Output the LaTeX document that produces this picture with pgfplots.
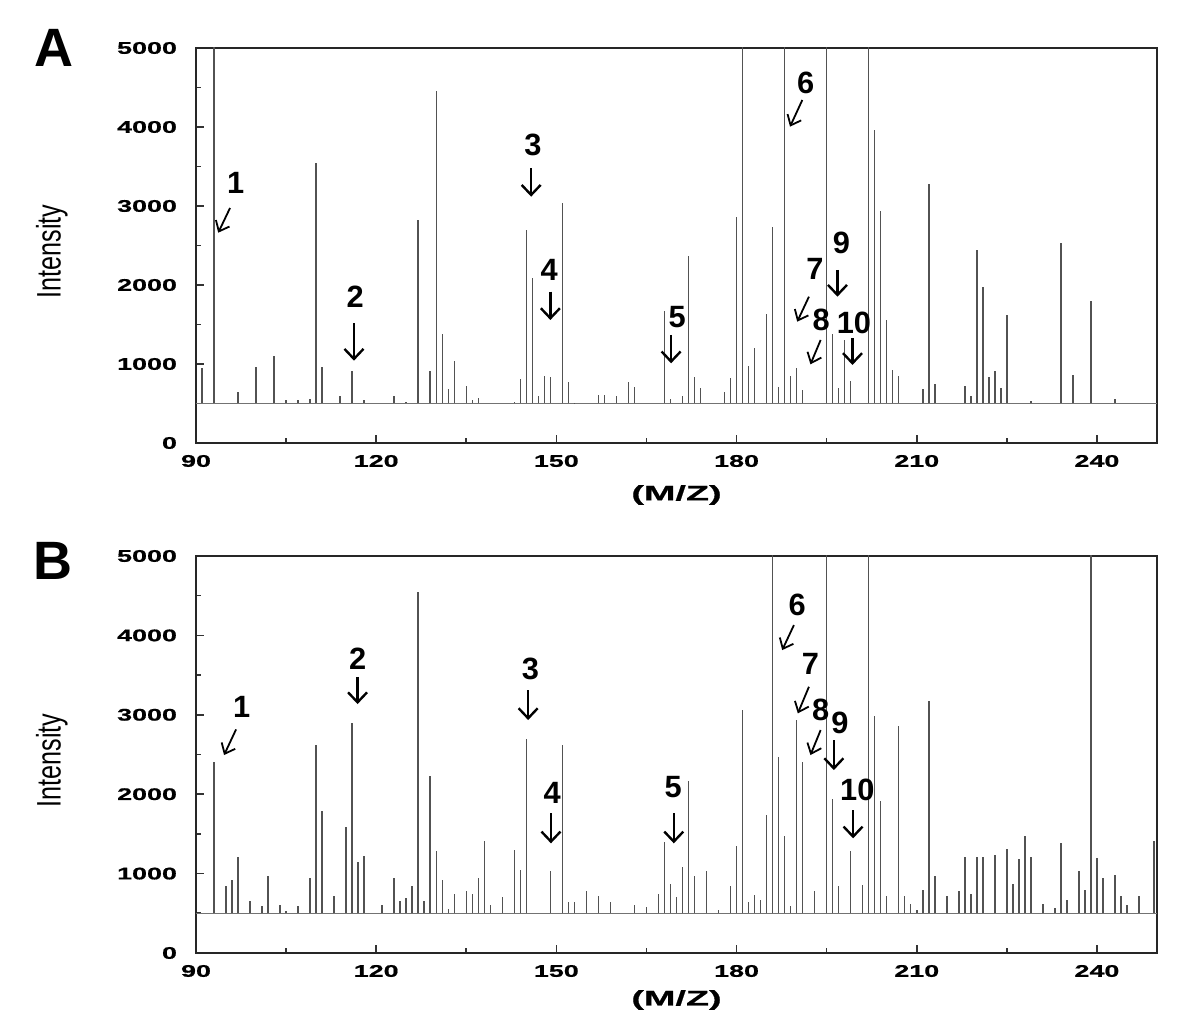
\documentclass[border=0pt]{standalone}
\usepackage{fontspec}
\setmainfont{Liberation Sans}
\newfontfamily\tickfont[FakeStretch=1.6,FakeBold=0.8]{Liberation Sans}
\newfontfamily\widefont[FakeStretch=1.8,FakeBold=0.8]{Liberation Sans}
\newfontfamily\narrowfont[FakeStretch=0.74]{Liberation Sans}
\usepackage{pgfplots}
\pgfplotsset{compat=1.18}
\usepackage{pgfplotstable}
\usetikzlibrary{arrows.meta}

\pgfplotstableread{
mz I
91 950
93 5200
97 640
100 960
103 1100
105 540
107 540
109 560
110 3540
111 960
114 600
116 910
118 540
123 600
125 515
127 2820
129 910
130 4450
131 1385
132 680
133 1040
135 725
136 540
137 570
143 520
144 810
145 2700
146 2090
147 600
148 850
149 830
151 3040
152 770
153 510
157 610
158 610
160 600
162 770
163 705
168 1675
169 560
171 600
172 2365
173 830
174 700
178 640
179 820
180 2860
181 5200
182 970
183 1200
185 1630
186 2735
187 705
188 5200
189 850
190 950
191 670
195 5200
196 1385
197 700
198 1300
199 780
202 5200
203 3965
204 2940
205 1560
206 930
207 845
211 685
212 3280
213 750
218 725
219 590
220 2445
221 1970
222 830
223 905
224 695
225 1615
229 535
234 2530
236 865
239 1795
243 555
}\dataA

\pgfplotstableread{
mz I
93 2410
95 845
96 925
97 1215
99 660
101 595
102 975
104 610
105 535
107 590
109 945
110 2620
111 1785
113 715
115 1585
116 2895
117 1140
118 1225
121 610
123 945
124 650
125 690
126 845
127 4550
128 650
129 2225
130 1280
131 915
132 555
133 745
135 775
136 745
137 945
138 1405
139 610
141 705
143 1300
144 1050
145 2695
149 1030
151 2620
152 640
153 640
155 775
157 720
159 640
163 610
165 575
167 745
168 1395
169 870
170 705
171 1080
172 2170
173 975
175 1035
177 545
179 845
180 1350
181 3060
182 640
183 725
184 670
185 1740
186 5200
187 2465
188 1475
189 590
190 2935
191 2410
193 775
195 5200
196 1940
197 840
199 1290
201 860
202 5200
203 2990
204 1910
205 720
207 2865
208 715
209 615
210 545
211 790
212 3175
213 965
215 715
217 775
218 1215
219 745
220 1215
221 1205
223 1240
225 1315
226 870
227 1185
228 1470
229 1215
231 615
233 565
234 1385
235 670
237 1030
238 795
239 5200
240 1195
241 950
243 985
244 715
245 610
247 715
249.5 1405
}\dataB

\pgfplotsset{
  spec/.style={
    scale only axis, width=480.5pt,
    xmin=90, xmax=250, ymin=0, ymax=5000,
    xtick={90,120,...,240}, ytick={0,1000,...,5000},
    minor x tick num=1, minor y tick num=1,
    tick align=inside, xtick pos=bottom, ytick pos=left,
    major tick length=4pt, minor tick length=2.5pt,
    every tick/.append style={black!80, line width=0.8pt},
    axis line style={black!85, line width=1pt},
    ticklabel style={font=\tickfont\bfseries\fontsize{8.4}{10}\selectfont},
    /pgf/number format/assume math mode=true,
    /pgf/number format/1000 sep={},
    scaled ticks=false,
    yticklabel style={xshift=-6pt},
    xticklabel style={yshift=-2.5pt},
    ylabel={Intensity},
    every axis y label/.style={at={(axis description cs:-0.15,0.485)}, rotate=90, anchor=center,
      font=\narrowfont\fontsize{17}{19}\selectfont},
    xlabel={(M/Z)},
    every axis x label/.style={anchor=center, font=\widefont\bfseries\fontsize{10.5}{12}\selectfont},
  },
  peak/.style={black!68, line width=0.75pt},
  base/.style={black!55, line width=0.6pt},
}
\tikzset{
  num/.style={font=\bfseries\fontsize{15.4}{17}\selectfont, inner sep=0pt},
  darr/.style={line width=1.2pt, -{Straight Barb[length=5pt,width=9.5pt]}},
  sarr/.style={line width=0.9pt, -{Straight Barb[length=4.5pt,width=7.5pt]}},
}

\begin{document}
\begin{tikzpicture}
\begin{axis}[spec, height=197.5pt, at={(98pt,-24pt)}, anchor=north west,
  xlabel style={at={(axis description cs:0.5,-0.1316)}}]
  \addplot[base] coordinates {(90,500) (250,500)};
  \addplot[peak, quiver={u=0, v=\thisrow{I}-500}] table[x=mz, y expr=500] {\dataA};
  % annotations
  \node[num] at (axis cs:96.6,3292) {1};
  \draw[sarr] (axis cs:95.67,2975) -- (axis cs:93.7,2662);
  \node[num] at (axis cs:116.5,1852) {2};
  \draw[darr] (axis cs:116.3,1515) -- (axis cs:116.3,1042);
  \node[num] at (axis cs:146.1,3773) {3};
  \draw[darr] (axis cs:145.8,3478) -- (axis cs:145.8,3118);
  \node[num] at (axis cs:148.8,2190) {4};
  \draw[darr] (axis cs:149,1915) -- (axis cs:149,1557);
  \node[num] at (axis cs:170.1,1591) {5};
  \draw[darr] (axis cs:169.1,1367) -- (axis cs:169.1,1009);
  \node[num] at (axis cs:191.5,4554) {6};
  \draw[sarr] (axis cs:190.95,4342) -- (axis cs:188.9,4004);
  \node[num] at (axis cs:193.05,2199) {7};
  \draw[sarr] (axis cs:192.05,1852) -- (axis cs:190.1,1536);
  \node[num] at (axis cs:194.1,1557) {8};
  \draw[sarr] (axis cs:194,1304) -- (axis cs:192.3,996);
  \node[num] at (axis cs:197.45,2528) {9};
  \draw[darr] (axis cs:196.8,2190) -- (axis cs:196.8,1852);
  \node[num] at (axis cs:199.55,1515) {10};
  \draw[darr] (axis cs:199.3,1325) -- (axis cs:199.3,988);
\end{axis}
\begin{axis}[spec, height=198.5pt, at={(98pt,-278pt)}, anchor=north west,
  xlabel style={at={(axis description cs:0.5,-0.1184)}}]
  \addplot[base] coordinates {(90,500) (250,500)};
  \addplot[peak, quiver={u=0, v=\thisrow{I}-500}] table[x=mz, y expr=500] {\dataB};
  \node[num] at (axis cs:97.6,3101) {1};
  \draw[sarr] (axis cs:96.67,2816) -- (axis cs:94.67,2493);
  \node[num] at (axis cs:116.9,3710) {2};
  \draw[darr] (axis cs:116.9,3479) -- (axis cs:116.9,3135);
  \node[num] at (axis cs:145.7,3584) {3};
  \draw[darr] (axis cs:145.3,3311) -- (axis cs:145.3,2934);
  \node[num] at (axis cs:149.3,2011) {4};
  \draw[darr] (axis cs:149.1,1759) -- (axis cs:149.1,1381);
  \node[num] at (axis cs:169.45,2094) {5};
  \draw[darr] (axis cs:169.55,1759) -- (axis cs:169.55,1381);
  \node[num] at (axis cs:190.1,4381) {6};
  \draw[sarr] (axis cs:189.55,4130) -- (axis cs:187.6,3815);
  \node[num] at (axis cs:192.3,3647) {7};
  \draw[sarr] (axis cs:192.05,3353) -- (axis cs:190.2,3018);
  \node[num] at (axis cs:194,3059) {8};
  \draw[sarr] (axis cs:194,2808) -- (axis cs:192.3,2493);
  \node[num] at (axis cs:197.2,2892) {9};
  \draw[darr] (axis cs:196.2,2682) -- (axis cs:196.2,2304);
  \node[num] at (axis cs:200.1,2052) {10};
  \draw[darr] (axis cs:199.4,1800) -- (axis cs:199.4,1444);
\end{axis}
\node[font=\bfseries\fontsize{27}{30}\selectfont] at (26.75pt,-23.75pt) {A};
\node[font=\bfseries\fontsize{27}{30}\selectfont] at (26.5pt,-280.5pt) {B};
\path (0,0) rectangle (600pt,-515.5pt);
\end{tikzpicture}
\end{document}
